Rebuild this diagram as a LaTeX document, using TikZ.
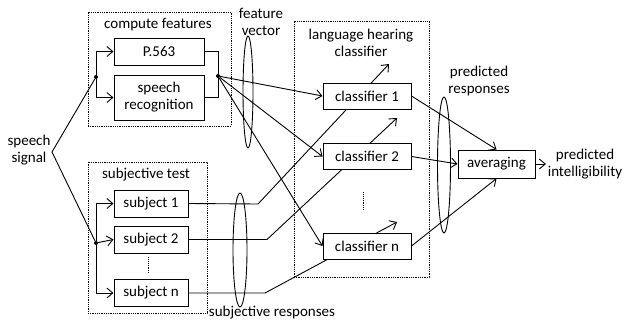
\documentclass[tikz,border=0pt]{standalone}
\usepackage{fontspec}
\setmainfont{Carlito}
\usetikzlibrary{arrows.meta, shapes.geometric}

\tikzset{
  blk/.style={draw, line width=1pt, fill=white, align=center, inner sep=2pt},
  grp/.style={draw, densely dotted, line width=0.8pt},
  lbl/.style={align=center, inner sep=0pt},
  sig/.style={line width=0.9pt},
  arr/.style={sig, -{Straight Barb[length=6pt,width=10pt]}},
  jdot/.style={circle, fill, inner sep=0pt, minimum size=4pt},
  bundle/.style={ellipse, draw, line width=0.9pt, inner sep=0pt},
}

\begin{document}
\begin{tikzpicture}[x=1pt, y=-1pt,
    every node/.style={font=\fontsize{15}{17}\selectfont}
]
\useasboundingbox (0,0) rectangle (624,325);
% Gruppen
\node[grp, minimum width=143pt, minimum height=114pt] (cfbox) at (159.5,69) {};
\node[grp, minimum width=119pt, minimum height=151pt] (stbox) at (147.5,237.5) {};
\node[grp, minimum width=135pt, minimum height=256pt] (lhbox) at (361.5,149) {};
\node[lbl] (cflab) at (158,25) {compute features};
\node[lbl] (stlab) at (146,175) {subjective test};
\node[lbl] (lhlab) at (361,43) {language hearing\\classifier};
% Eingang
\node[lbl] (sig) at (29,150) {speech\\signal};
\coordinate (ss) at (52,152);
\node[jdot] (cfj) at (96,77) {};
\node[jdot] (stj) at (96,243) {};
\draw[sig] (cfj) -- (ss) -- (stj);
% Merkmale
\node[blk, minimum width=90pt, minimum height=27pt] (p563) at (159,51.5) {P.563};
\node[blk, minimum width=90pt, minimum height=45pt] (asr) at (159,97.5) {speech\\recognition};
\draw[arr] (cfj) |- (p563.west);
\draw[arr] (cfj) |- (asr.west);
\node[jdot] (fv) at (218,76) {};
\draw[sig] (p563.east) -| (fv);
\draw[sig] (asr.east) -| (fv);
\node[bundle, minimum width=10pt, minimum height=112pt] (fvell) at (248,92) {};
\node[lbl] (fvlab) at (261,22) {feature\\vector};
% Probanden
\node[blk, minimum width=74pt, minimum height=27pt] (sub1) at (151,203.5) {subject 1};
\node[blk, minimum width=74pt, minimum height=27pt] (sub2) at (151,239.5) {subject 2};
\node[blk, minimum width=74pt, minimum height=27pt] (subn) at (151,293) {subject n};
\coordinate (sd1) at (148,257);
\coordinate (sd2) at (148,273);
\draw[densely dotted, line width=0.9pt] (sd1) -- (sd2);
\draw[arr] (stj) |- (sub1.west);
\draw[arr] (stj) -- (sub2.west);
\draw[arr] (stj) |- (subn.west);
% Antworten der Probanden (hinter den Klassifikatoren)
\coordinate (s1b) at (258,204);
\coordinate (s2b) at (267,239.5);
\coordinate (snb) at (265,293);
\coordinate (s1e) at (389,64);
\coordinate (s2e) at (397,118);
\coordinate (sne) at (397,222);
\draw[arr] (sub1.east) -- (s1b) -- (s1e);
\draw[arr] (sub2.east) -- (s2b) -- (s2e);
\draw[arr] (subn.east) -- (snb) -- (sne);
\node[bundle, minimum width=14pt, minimum height=114pt] (srell) at (240,250) {};
\node[lbl] (srlab) at (272,313) {subjective responses};
% Klassifikatoren
\node[blk, minimum width=88pt, minimum height=26pt] (c1) at (367,96) {classifier 1};
\node[blk, minimum width=88pt, minimum height=26pt] (c2) at (367,156.5) {classifier 2};
\node[blk, minimum width=88pt, minimum height=26pt] (cn) at (367,246) {classifier n};
\coordinate (cd1) at (363,192);
\coordinate (cd2) at (363,210);
\draw[densely dotted, line width=0.9pt] (cd1) -- (cd2);
\draw[arr] (fv) -- (c1.west);
\draw[arr] (fv) -- (c2.west);
\draw[arr] (fv) -- (cn.west);
% Mittelung
\node[blk, minimum width=77pt, minimum height=28pt] (avg) at (496.5,164) {averaging};
\draw[arr] (c1.east) -- (avg.north);
\draw[arr] (c2.east) -- (avg.west);
\draw[arr] (cn.east) -- (avg.south);
\node[bundle, minimum width=13pt, minimum height=136pt] (prell) at (444,165) {};
\node[lbl] (prlab) at (479,81) {predicted\\responses};
\coordinate (out) at (546,164);
\draw[arr] (avg.east) -- (out);
\node[lbl] (pilab) at (585,164) {predicted\\intelligibility};
\end{tikzpicture}
\end{document}
